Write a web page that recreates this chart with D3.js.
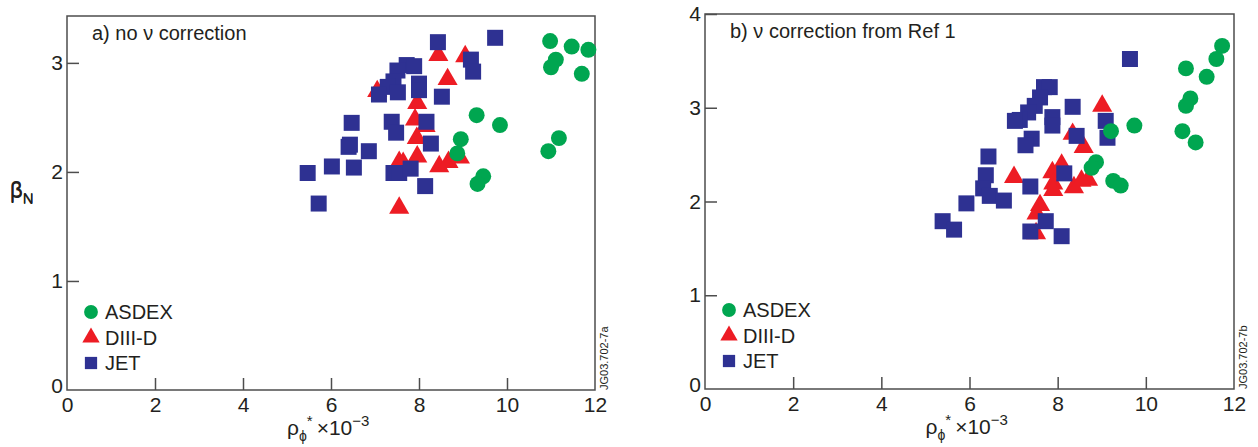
<!DOCTYPE html>
<html>
<head>
<meta charset="utf-8">
<script src="https://cdn.jsdelivr.net/npm/d3@7"></script>
<style>
  body { margin: 0; background: #fff; }
  svg text { font-family: "Liberation Sans", Arial, sans-serif; fill: #231f20; }
</style>
</head>
<body>
<div id="chart"></div>
<script>
// panel a) no nu correction  [rho*, betaN]
const asdexA = [[10.98,3.20],[11.47,3.15],[11.85,3.12],[11.11,3.03],[11.0,2.96],[11.70,2.90],
  [9.31,2.52],[9.84,2.43],[8.95,2.30],[8.87,2.17],[11.18,2.31],[10.94,2.19],[9.46,1.96],[9.33,1.89]];
const diiidA = [[8.44,3.07],[9.05,3.06],[8.65,2.85],[7.05,2.74],[7.96,2.63],[7.91,2.48],[7.95,2.31],
  [8.15,2.42],[7.55,2.09],[7.64,2.08],[7.96,2.14],[8.46,2.05],[8.67,2.09],[8.93,2.13],[7.55,1.67]];
const jetA = [[8.43,3.19],[9.73,3.23],[9.18,3.03],[9.23,2.92],[7.72,2.98],[7.89,2.97],[7.51,2.93],
  [7.42,2.83],[7.29,2.78],[7.52,2.73],[7.09,2.71],[8.0,2.81],[8.0,2.75],[8.52,2.69],[6.47,2.45],
  [7.38,2.46],[7.48,2.36],[8.17,2.46],[6.40,2.23],[6.43,2.25],[6.86,2.19],[8.27,2.26],[5.47,1.99],
  [6.02,2.05],[6.52,2.04],[7.42,1.99],[7.55,1.99],[7.81,2.03],[8.14,1.87],[5.72,1.71]];

// panel b) nu correction from Ref 1
const asdexB = [[11.73,3.66],[11.60,3.52],[10.91,3.42],[11.38,3.33],[11.01,3.10],[10.91,3.02],
  [10.83,2.75],[11.13,2.63],[9.74,2.81],[9.21,2.75],[8.87,2.42],[8.77,2.36],[9.26,2.22],[9.43,2.17]];
const diiidB = [[9.01,3.02],[8.34,2.72],[8.59,2.58],[7.01,2.26],[8.09,2.39],[7.88,2.31],[7.90,2.19],
  [7.90,2.12],[8.37,2.15],[8.69,2.23],[8.54,2.22],[7.60,1.96],[7.52,1.87],[7.51,1.66]];
const jetB = [[9.64,3.52],[7.69,3.22],[7.82,3.22],[7.60,3.11],[7.48,3.02],[7.33,2.95],[7.14,2.87],
  [7.03,2.86],[7.88,2.90],[7.88,2.81],[8.34,3.01],[9.09,2.86],[9.13,2.68],[8.43,2.70],[7.41,2.67],
  [7.27,2.60],[6.43,2.48],[6.37,2.28],[6.31,2.14],[6.46,2.06],[6.78,2.01],[5.93,1.98],[5.39,1.79],
  [5.65,1.70],[7.38,2.16],[8.15,2.30],[7.73,1.79],[7.38,1.68],[8.09,1.63]];

const xTicks = [0, 2, 4, 6, 8, 10, 12];
const yTicksA = [0, 1, 2, 3];
const yTicksB = [0, 1, 2, 3, 4];
const seriesNames = ["ASDEX", "DIII-D", "JET"];

const colors = { "ASDEX": "#00a650", "DIII-D": "#ed1c24", "JET": "#2e3192" };
const shapes = { "ASDEX": d3.symbolCircle, "DIII-D": d3.symbolTriangle, "JET": d3.symbolSquare };
const sizes = { "ASDEX": 200, "DIII-D": 175, "JET": 256 };

const svg = d3.select("#chart").append("svg")
    .attr("width", 1258)
    .attr("height", 447);

function drawPanel(cfg) {
  let g = svg.append("g").attr("transform", `translate(${cfg.left},${cfg.top})`);
  let w = cfg.width, h = cfg.height;

  let x = d3.scaleLinear().domain([0, 12]).range([0, w]);
  let y = d3.scaleLinear().domain([0, cfg.yMax]).range([h, 0]);

  // frame
  g.append("rect")
      .attr("width", w).attr("height", h)
      .attr("fill", "none").attr("stroke", "#4d4d4d").attr("stroke-width", 1.5);

  let xAxis = g.append("g")
      .attr("transform", `translate(0,${h})`)
      .call(d3.axisBottom(x).tickValues(xTicks).tickFormat(d3.format("d")).tickSize(-12).tickPadding(18));
  let yAxis = g.append("g")
      .call(d3.axisLeft(y).tickValues(cfg.yTicks).tickFormat(d3.format("d")).tickSize(-12).tickPadding(18));

  [xAxis, yAxis].forEach(a => {
    a.select(".domain").remove();
    a.selectAll("line").attr("stroke", "#4d4d4d").attr("stroke-width", 1.5);
    a.selectAll("text").style("font-size", "21px").attr("fill", "#231f20")
        .style("font-family", '"Liberation Sans", Arial, sans-serif');
  });
  xAxis.selectAll(".tick line").filter(d => d === 0 || d === 12).remove();
  yAxis.selectAll(".tick line").filter(d => d === 0).remove();
  xAxis.selectAll("text").attr("y", 7).attr("dy", "0.71em");
  yAxis.selectAll("text").attr("x", -4);
  yAxis.selectAll(".tick").filter(d => d === 0).select("text").attr("dy", "0.1em");

  // markers: triangles, then squares, then circles on top
  let groups = [["DIII-D", cfg.diiid], ["JET", cfg.jet], ["ASDEX", cfg.asdex]];
  groups.forEach(([name, data]) => {
    g.append("g").selectAll("path")
        .data(data)
        .enter().append("path")
        .attr("transform", d => `translate(${x(d[0])},${y(d[1])})`)
        .attr("d", d3.symbol().type(shapes[name]).size(sizes[name]))
        .attr("fill", colors[name]);
  });

  // title
  g.append("text")
      .attr("x", 25).attr("y", 24)
      .style("font-size", "20px")
      .text(cfg.title);

  // legend
  let legend = g.append("g").attr("transform", "translate(24,296)");
  seriesNames.forEach((name, i) => {
    let row = legend.append("g").attr("transform", `translate(0,${i * 25.5})`);
    row.append("path")
        .attr("d", d3.symbol().type(shapes[name]).size(name === "DIII-D" ? 130 : 150))
        .attr("fill", colors[name]);
    row.append("text")
        .attr("x", 14).attr("dy", "0.36em")
        .style("font-size", "20px")
        .text(name);
  });

  // y label beta_N
  let yl = g.append("text")
      .attr("transform", `translate(${-cfg.left + 10},${h / 2 - 5})`)
      .style("font-size", "22px");
  yl.append("tspan").text("β");
  yl.append("tspan").attr("dy", 6).style("font-size", "15px").text("N");

  // x label rho_phi* x10^-3
  let xl = g.append("text")
      .attr("transform", `translate(${w / 2 - 44},${h + 45})`)
      .style("font-size", "21px");
  xl.append("tspan").text("ρ");
  xl.append("tspan").attr("dy", 6).style("font-size", "14px").text("ϕ");
  xl.append("tspan").attr("dy", -15).style("font-size", "15px").text("*");
  xl.append("tspan").attr("dy", 9).attr("dx", 4).text("×10");
  xl.append("tspan").attr("dy", -9).style("font-size", "15px").text("−3");

  // figure id
  g.append("text")
      .attr("transform", `translate(${w + 13},${h})rotate(-90)`)
      .style("font-size", "11px")
      .text(cfg.figId);
}

drawPanel({
  left: 67, top: 16, width: 528, height: 374, yMax: 3.43,
  yTicks: yTicksA, asdex: asdexA, diiid: diiidA, jet: jetA,
  title: "a) no ν correction", figId: "JG03.702-7a"
});

drawPanel({
  left: 705, top: 14, width: 529, height: 375, yMax: 4,
  yTicks: yTicksB, asdex: asdexB, diiid: diiidB, jet: jetB,
  title: "b) ν correction from Ref 1", figId: "JG03.702-7b"
});
</script>
</body>
</html>
